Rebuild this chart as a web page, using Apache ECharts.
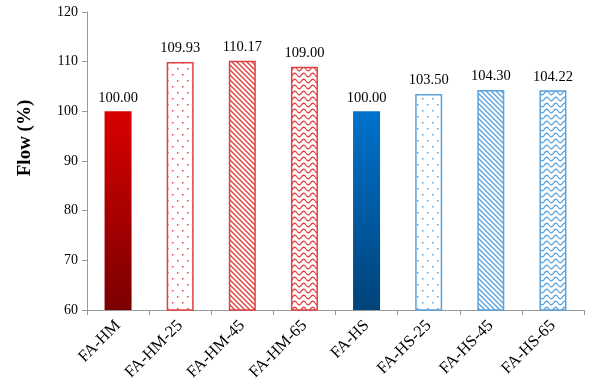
<!DOCTYPE html>
<html><head><meta charset="utf-8">
<script src="https://cdn.jsdelivr.net/npm/echarts@6/dist/echarts.min.js"></script>
<style>html,body{margin:0;padding:0;background:#fff}#c{width:590px;height:379px}</style>
</head><body><div id="c"></div>
<script>
var categories = ['FA-HM','FA-HM-25','FA-HM-45','FA-HM-65','FA-HS','FA-HS-25','FA-HS-45','FA-HS-65'];
var values = [100.00, 109.93, 110.17, 109.00, 100.00, 103.50, 104.30, 104.22];
var fills = ['solid','dots','diag','wave','solid','dots','diag','wave'];
var groups = ['red','red','red','red','blue','blue','blue','blue'];
var yTicks = [60, 70, 80, 90, 100, 110, 120];
var yTitle = 'Flow (%)';

var palette = {
  red: {top:'#d90000', bottom:'#7a0000', line:'#e04040'},
  blue: {top:'#0072cc', bottom:'#00437a', line:'#5aa2dc'}
};

function makePattern(kind, col){
  var c = document.createElement('canvas');
  var ctx;
  if(kind==='dots'){
    c.width=10; c.height=12; ctx=c.getContext('2d');
    ctx.fillStyle='#fff'; ctx.fillRect(0,0,10,12);
    ctx.fillStyle=col;
    ctx.fillRect(2,2,1.5,1.5); ctx.fillRect(7,8,1.5,1.5);
  } else if(kind==='diag'){
    c.width=5; c.height=5; ctx=c.getContext('2d');
    ctx.fillStyle='#fff'; ctx.fillRect(0,0,5,5);
    ctx.strokeStyle=col; ctx.lineWidth=1.4;
    ctx.beginPath();
    ctx.moveTo(-5,-5); ctx.lineTo(10,10);
    ctx.moveTo(-5,0); ctx.lineTo(5,10);
    ctx.moveTo(0,-5); ctx.lineTo(10,5);
    ctx.stroke();
  } else if(kind==='wave'){
    c.width=9; c.height=6; ctx=c.getContext('2d');
    ctx.fillStyle='#fff'; ctx.fillRect(0,0,9,6);
    ctx.strokeStyle=col; ctx.lineWidth=1.3;
    ctx.beginPath();
    for(var x=0;x<=9;x+=0.5){
      var y=3+1.8*Math.sin(x/9*2*Math.PI);
      if(x===0) ctx.moveTo(x,y); else ctx.lineTo(x,y);
    }
    ctx.stroke();
  }
  return {image:c, repeat:'repeat'};
}

var data = values.map(function(v,i){
  var p = palette[groups[i]];
  var style;
  if(fills[i]==='solid'){
    style = {color: new echarts.graphic.LinearGradient(0,0,0,1,[{offset:0,color:p.top},{offset:1,color:p.bottom}])};
  } else {
    style = {color: makePattern(fills[i], p.line), borderColor:p.line, borderWidth:1.5};
  }
  return {value:v, itemStyle:style};
});

var chart = echarts.init(document.getElementById('c'), null, {renderer:'canvas'});
chart.setOption({
  animation:false,
  grid:{left:87, right:6, top:12, bottom:69, containLabel:false, outerBoundsMode:'none'},
  graphic:[{
    type:'text', x:25, y:138, rotation:Math.PI/2,
    style:{text:yTitle, fontFamily:'Liberation Serif', fontSize:19, fontWeight:'bold', fill:'#000', align:'center', verticalAlign:'middle'}
  }],
  xAxis:{
    type:'category', data:categories,
    axisLine:{lineStyle:{color:'#999'}},
    axisTick:{show:true, lineStyle:{color:'#999'}, length:5},
    axisLabel:{rotate:45, color:'#000', fontFamily:'Liberation Serif', fontSize:16.5, margin:13}
  },
  yAxis:{
    type:'value', min:yTicks[0], max:yTicks[yTicks.length-1], interval:10,
    axisLine:{show:true, lineStyle:{color:'#999'}},
    axisTick:{show:true, lineStyle:{color:'#999'}, length:5},
    splitLine:{show:false},
    axisLabel:{color:'#000', fontFamily:'Liberation Serif', fontSize:14, margin:9}
  },
  series:[{
    type:'bar', data:data, barWidth:27,
    label:{show:true, position:'top', distance:6, color:'#000', fontFamily:'Liberation Serif', fontSize:14.5,
      formatter:function(p){return p.value.toFixed(2);}}
  }]
});
</script></body></html>
